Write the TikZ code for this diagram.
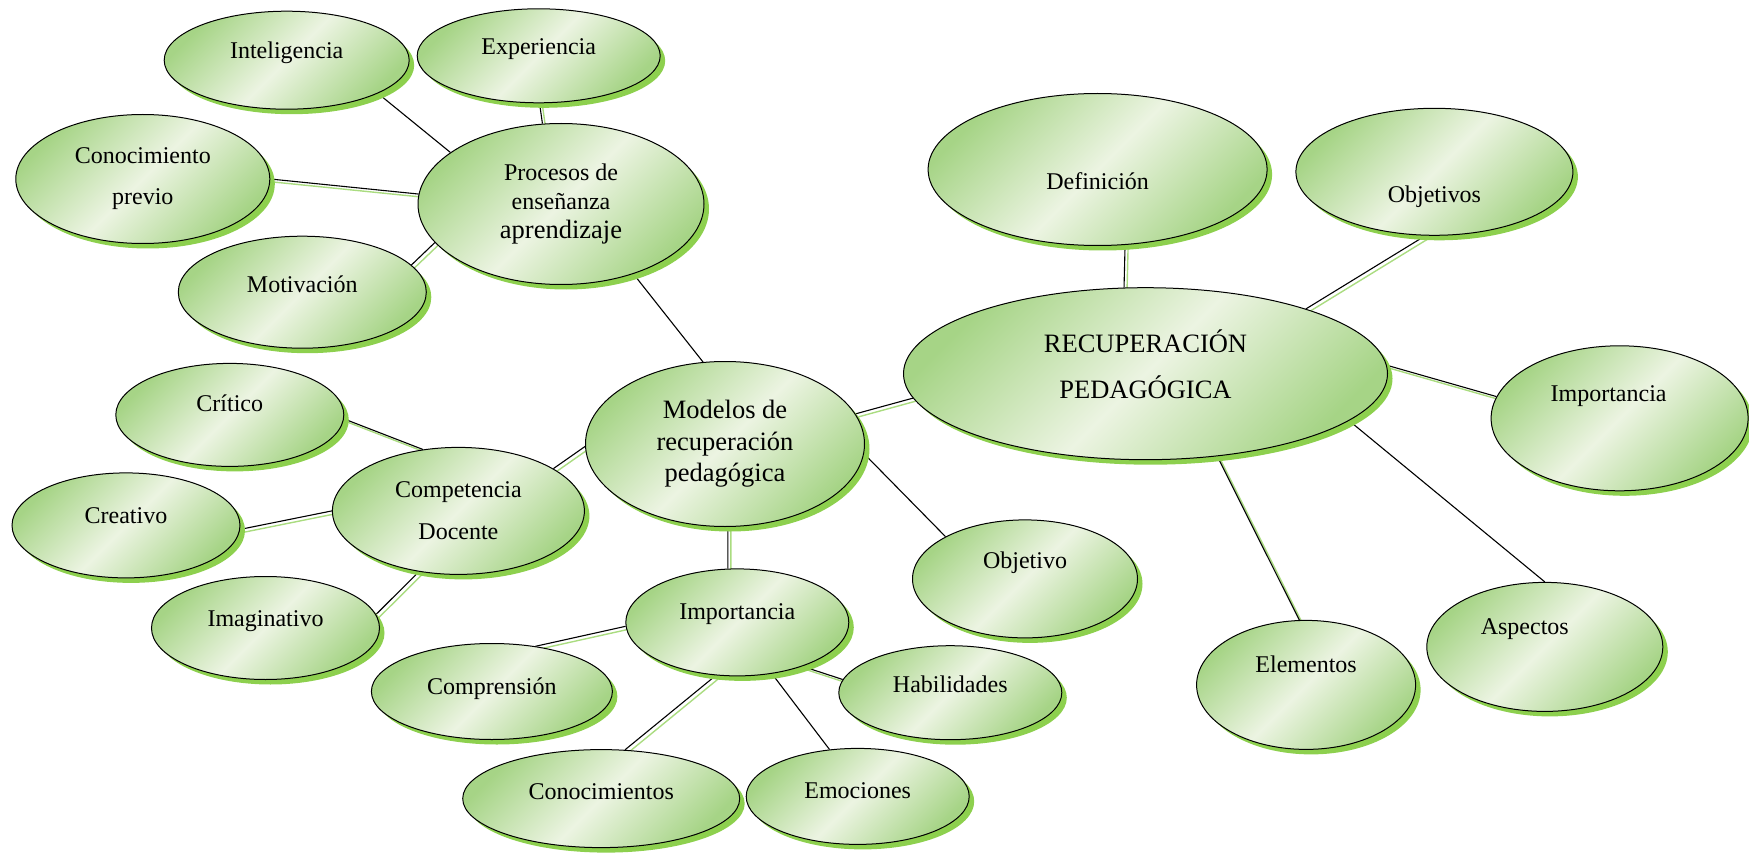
\documentclass[tikz,border=0pt]{standalone}
\usepackage{fontspec}
\setmainfont{Liberation Serif}
\usetikzlibrary{shapes.geometric,shadows,backgrounds}

\definecolor{gdark}{RGB}{166,212,134}
\definecolor{glight}{RGB}{236,244,226}
\definecolor{gshadow}{RGB}{141,208,78}
\definecolor{gline}{RGB}{170,220,128}

\tikzset{
	bub/.style={ellipse, draw=black, line width=1pt, inner sep=0pt,
		left color=gdark, right color=gdark, middle color=glight, shading angle=45,
		drop shadow={shadow xshift=5pt, shadow yshift=-5pt, fill=gshadow, opacity=1},
		font=\fontsize{24}{40}\selectfont},
	tup/.style={text height=17pt, text depth=#1},
	tdn/.style={text depth=6pt, text height=#1},
	blk/.style={line width=1.1pt, black},
	grn/.style={line width=1.4pt, gline},
}

\begin{document}
\begin{tikzpicture}[x=1pt, y=-1pt]
			\useasboundingbox (0,0) rectangle (1749,853);

			\node[bub, tup=21pt, minimum width=245, minimum height=98] (intel) at (286.7,60.2) {Inteligencia};
			\node[bub, tup=19pt, minimum width=243, minimum height=94] (exper) at (538.7,55.8) {Experiencia};
			\node[bub, align=center, font=\fontsize{24}{41}\selectfont, minimum width=254, minimum height=129] (conprev) at (142.8,179) {Conocimiento\\previo};
			\node[bub, align=center, font=\fontsize{24}{29}\selectfont, minimum width=286, minimum height=161] (proc) at (561,204) {Procesos de\\enseñanza\\{\fontsize{26.5}{31}\selectfont aprendizaje}};
			\node[bub, tup=17pt, minimum width=248, minimum height=112] (motiv) at (302.3,292.2) {Motivación};

			\node[bub, tdn=46pt, minimum width=339, minimum height=152] (defin) at (1097.6,169.5) {Definición};
			\node[bub, tdn=68pt, minimum width=277, minimum height=127] (objs) at (1434.4,171.8) {Objetivos};
			\node[bub, align=center, text depth=20pt, font=\fontsize{26.5}{46}\selectfont, minimum width=484, minimum height=172] (recup) at (1145.5,373.7) {RECUPERACIÓN\\PEDAGÓGICA};
			\node[bub, tup=51pt, minimum width=257, minimum height=145] (impR) at (1619.6,418.3) {Importancia\hspace*{22pt}};
			\node[bub, tup=41pt, minimum width=219, minimum height=129] (elem) at (1306.1,684.9) {Elementos};
			\node[bub, tup=41pt, minimum width=236, minimum height=129] (asp) at (1544.8,646.9) {Aspectos\hspace*{40pt}};

			\node[bub, tup=23pt, minimum width=228, minimum height=103] (crit) at (229.8,414.9) {Crítico};
			\node[bub, align=center, font=\fontsize{24}{42}\selectfont, minimum width=252, minimum height=127] (comp) at (458.4,510.9) {Competencia\\Docente};
			\node[bub, align=center, font=\fontsize{26.5}{31.5}\selectfont, minimum width=279, minimum height=165] (model) at (725,444) {Modelos de\\recuperación\\pedagógica};
			\node[bub, tup=21pt, minimum width=228, minimum height=105] (creat) at (126,525.4) {Creativo};
			\node[bub, tup=37pt, minimum width=225, minimum height=118] (obj) at (1025,578.9) {Objetivo};
			\node[bub, tup=21pt, minimum width=228, minimum height=103] (imag) at (265.5,628) {Imaginativo};

			\node[bub, tup=23pt, minimum width=223, minimum height=107] (impM) at (737.3,622.4) {Importancia};
			\node[bub, tup=11pt, minimum width=241, minimum height=96] (compr) at (491.9,691.5) {Comprensión};
			\node[bub, tup=17pt, minimum width=223, minimum height=94] (habil) at (950.3,692.7) {Habilidades};
			\node[bub, tup=15pt, minimum width=277, minimum height=98] (conoc) at (601.2,798.6) {Conocimientos};
			\node[bub, tup=13pt, minimum width=223, minimum height=96] (emoc) at (857.7,796.4) {Emociones};

			\begin{pgfonlayer}{background}
			\foreach \a/\b in {exper.-89/proc.103, conprev.0/proc.176, motiv.14/proc.197,
				crit.-2/comp.120, creat.-2/comp.180, imag.7/comp.237, comp.24/model.181,
				model.13/recup.186, model.-88/impM.100, impM.182/compr.46, impM.-34/habil.173,
				impM.248/conoc.64, recup.104/defin.-70, recup.22/objs.262, recup.2/impR.170,
				recup.-49/elem.96}
			{
				\draw[grn] ([shift={(3,3)}]\a) -- ([shift={(3,3)}]\b);
				\draw[blk] (\a) -- (\b);
			}
			\foreach \a/\b in {intel.-20/proc.155, proc.-44/model.105, model.-4/obj.152,
				impM.-56/emoc.121, recup.-13/asp.90}
				\draw[blk] (\a) -- (\b);
			\end{pgfonlayer}
		\end{tikzpicture}
\end{document}
